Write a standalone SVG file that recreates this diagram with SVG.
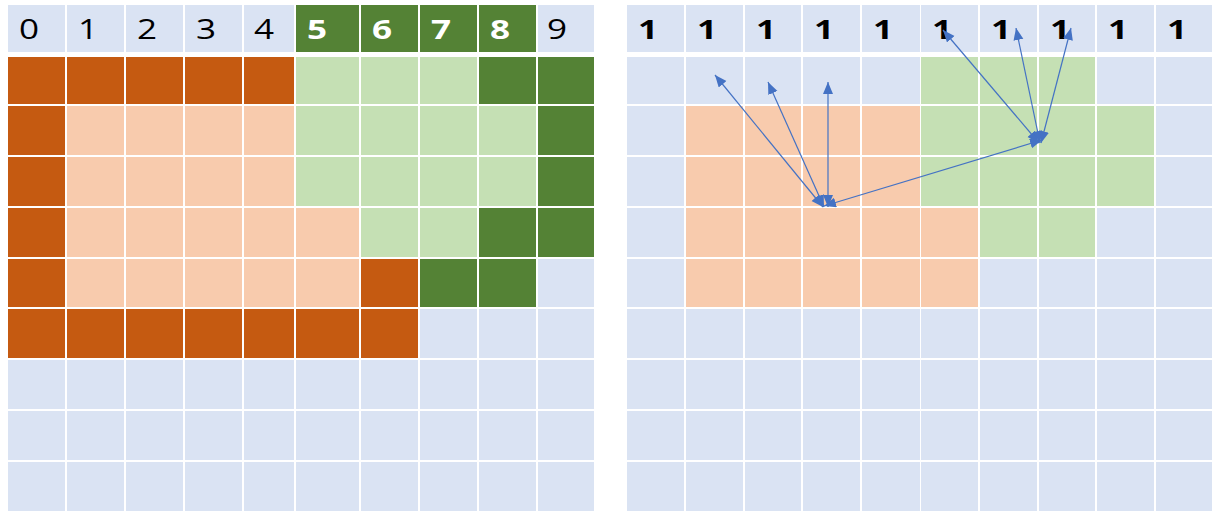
<svg xmlns="http://www.w3.org/2000/svg" width="1212" height="511" viewBox="0 0 1212 511">
<style>
.b{fill:#DAE3F3}.o{fill:#C55A11}.lo{fill:#F8CBAD}.g{fill:#548235}.lg{fill:#C5E0B4}
text{font-family:"Open Sans","Noto Sans","DejaVu Sans",sans-serif;font-size:27px;fill:#000}
.w{fill:#fff;font-weight:bold}.k{font-weight:bold}
.ar{stroke:#4472C4;stroke-width:1.2;fill:none;marker-start:url(#ah);marker-end:url(#ah)}
</style>
<defs>
<marker id="ah" markerUnits="userSpaceOnUse" markerWidth="14" markerHeight="12" refX="12" refY="5" orient="auto-start-reverse" viewBox="0 0 14 12">
<path d="M0,0 L12,5 L0,10 z" fill="#4472C4"/>
</marker>
</defs>
<rect width="1212" height="511" fill="#fff"/>
<g id="left-grid">
<g id="left-header">
<g id="lh0"><rect class="b" x="8" y="5" width="57" height="47"/><text transform="translate(19,39) scale(1.3,1)">0</text></g>
<g id="lh1"><rect class="b" x="67" y="5" width="57" height="47"/><text transform="translate(78,39) scale(1.3,1)">1</text></g>
<g id="lh2"><rect class="b" x="126" y="5" width="57" height="47"/><text transform="translate(137,39) scale(1.3,1)">2</text></g>
<g id="lh3"><rect class="b" x="185" y="5" width="57" height="47"/><text transform="translate(196,39) scale(1.3,1)">3</text></g>
<g id="lh4"><rect class="b" x="244" y="5" width="50" height="47"/><text transform="translate(254,39) scale(1.3,1)">4</text></g>
<g id="lh5"><rect class="g" x="296" y="5" width="63" height="47"/><text class="w" transform="translate(307,39) scale(1.3,1)">5</text></g>
<g id="lh6"><rect class="g" x="361" y="5" width="57" height="47"/><text class="w" transform="translate(372,39) scale(1.3,1)">6</text></g>
<g id="lh7"><rect class="g" x="420" y="5" width="57" height="47"/><text class="w" transform="translate(431,39) scale(1.3,1)">7</text></g>
<g id="lh8"><rect class="g" x="479" y="5" width="57" height="47"/><text class="w" transform="translate(490,39) scale(1.3,1)">8</text></g>
<g id="lh9"><rect class="b" x="538" y="5" width="56" height="47"/><text transform="translate(547,39) scale(1.3,1)">9</text></g>
</g>
<g id="left-r1" transform="translate(0,57)">
<rect class="o" x="8" width="57" height="47"/><rect class="o" x="67" width="57" height="47"/><rect class="o" x="126" width="57" height="47"/><rect class="o" x="185" width="57" height="47"/><rect class="o" x="244" width="50" height="47"/><rect class="lg" x="296" width="63" height="47"/><rect class="lg" x="361" width="57" height="47"/><rect class="lg" x="420" width="57" height="47"/><rect class="g" x="479" width="57" height="47"/><rect class="g" x="538" width="56" height="47"/>
</g>
<g id="left-r2" transform="translate(0,106)">
<rect class="o" x="8" width="57" height="49"/><rect class="lo" x="67" width="57" height="49"/><rect class="lo" x="126" width="57" height="49"/><rect class="lo" x="185" width="57" height="49"/><rect class="lo" x="244" width="50" height="49"/><rect class="lg" x="296" width="63" height="49"/><rect class="lg" x="361" width="57" height="49"/><rect class="lg" x="420" width="57" height="49"/><rect class="lg" x="479" width="57" height="49"/><rect class="g" x="538" width="56" height="49"/>
</g>
<g id="left-r3" transform="translate(0,157)">
<rect class="o" x="8" width="57" height="49"/><rect class="lo" x="67" width="57" height="49"/><rect class="lo" x="126" width="57" height="49"/><rect class="lo" x="185" width="57" height="49"/><rect class="lo" x="244" width="50" height="49"/><rect class="lg" x="296" width="63" height="49"/><rect class="lg" x="361" width="57" height="49"/><rect class="lg" x="420" width="57" height="49"/><rect class="lg" x="479" width="57" height="49"/><rect class="g" x="538" width="56" height="49"/>
</g>
<g id="left-r4" transform="translate(0,208)">
<rect class="o" x="8" width="57" height="49"/><rect class="lo" x="67" width="57" height="49"/><rect class="lo" x="126" width="57" height="49"/><rect class="lo" x="185" width="57" height="49"/><rect class="lo" x="244" width="50" height="49"/><rect class="lo" x="296" width="63" height="49"/><rect class="lg" x="361" width="57" height="49"/><rect class="lg" x="420" width="57" height="49"/><rect class="g" x="479" width="57" height="49"/><rect class="g" x="538" width="56" height="49"/>
</g>
<g id="left-r5" transform="translate(0,259)">
<rect class="o" x="8" width="57" height="48"/><rect class="lo" x="67" width="57" height="48"/><rect class="lo" x="126" width="57" height="48"/><rect class="lo" x="185" width="57" height="48"/><rect class="lo" x="244" width="50" height="48"/><rect class="lo" x="296" width="63" height="48"/><rect class="o" x="361" width="57" height="48"/><rect class="g" x="420" width="57" height="48"/><rect class="g" x="479" width="57" height="48"/><rect class="b" x="538" width="56" height="48"/>
</g>
<g id="left-r6" transform="translate(0,309)">
<rect class="o" x="8" width="57" height="49"/><rect class="o" x="67" width="57" height="49"/><rect class="o" x="126" width="57" height="49"/><rect class="o" x="185" width="57" height="49"/><rect class="o" x="244" width="50" height="49"/><rect class="o" x="296" width="63" height="49"/><rect class="o" x="361" width="57" height="49"/><rect class="b" x="420" width="57" height="49"/><rect class="b" x="479" width="57" height="49"/><rect class="b" x="538" width="56" height="49"/>
</g>
<g id="left-r7" transform="translate(0,360)">
<rect class="b" x="8" width="57" height="49"/><rect class="b" x="67" width="57" height="49"/><rect class="b" x="126" width="57" height="49"/><rect class="b" x="185" width="57" height="49"/><rect class="b" x="244" width="50" height="49"/><rect class="b" x="296" width="63" height="49"/><rect class="b" x="361" width="57" height="49"/><rect class="b" x="420" width="57" height="49"/><rect class="b" x="479" width="57" height="49"/><rect class="b" x="538" width="56" height="49"/>
</g>
<g id="left-r8" transform="translate(0,411)">
<rect class="b" x="8" width="57" height="49"/><rect class="b" x="67" width="57" height="49"/><rect class="b" x="126" width="57" height="49"/><rect class="b" x="185" width="57" height="49"/><rect class="b" x="244" width="50" height="49"/><rect class="b" x="296" width="63" height="49"/><rect class="b" x="361" width="57" height="49"/><rect class="b" x="420" width="57" height="49"/><rect class="b" x="479" width="57" height="49"/><rect class="b" x="538" width="56" height="49"/>
</g>
<g id="left-r9" transform="translate(0,462)">
<rect class="b" x="8" width="57" height="49"/><rect class="b" x="67" width="57" height="49"/><rect class="b" x="126" width="57" height="49"/><rect class="b" x="185" width="57" height="49"/><rect class="b" x="244" width="50" height="49"/><rect class="b" x="296" width="63" height="49"/><rect class="b" x="361" width="57" height="49"/><rect class="b" x="420" width="57" height="49"/><rect class="b" x="479" width="57" height="49"/><rect class="b" x="538" width="56" height="49"/>
</g>
</g>
<g id="right-grid">
<g id="right-header">
<g id="rh0"><rect class="b" x="627" y="5" width="57" height="47"/><text class="k" transform="translate(638,39) scale(1.3,1)">1</text></g>
<g id="rh1"><rect class="b" x="686" y="5" width="57" height="47"/><text class="k" transform="translate(697,39) scale(1.3,1)">1</text></g>
<g id="rh2"><rect class="b" x="745" y="5" width="56" height="47"/><text class="k" transform="translate(756,39) scale(1.3,1)">1</text></g>
<g id="rh3"><rect class="b" x="803" y="5" width="57" height="47"/><text class="k" transform="translate(814,39) scale(1.3,1)">1</text></g>
<g id="rh4"><rect class="b" x="862" y="5" width="58" height="47"/><text class="k" transform="translate(873,39) scale(1.3,1)">1</text></g>
<g id="rh5"><rect class="b" x="921" y="5" width="57" height="47"/><text class="k" transform="translate(932,39) scale(1.3,1)">1</text></g>
<g id="rh6"><rect class="b" x="980" y="5" width="57" height="47"/><text class="k" transform="translate(991,39) scale(1.3,1)">1</text></g>
<g id="rh7"><rect class="b" x="1039" y="5" width="56" height="47"/><text class="k" transform="translate(1050,39) scale(1.3,1)">1</text></g>
<g id="rh8"><rect class="b" x="1097" y="5" width="57" height="47"/><text class="k" transform="translate(1108,39) scale(1.3,1)">1</text></g>
<g id="rh9"><rect class="b" x="1156" y="5" width="56" height="47"/><text class="k" transform="translate(1167,39) scale(1.3,1)">1</text></g>
</g>
<g id="right-r1" transform="translate(0,57)">
<rect class="b" x="627" width="57" height="47"/><rect class="b" x="686" width="57" height="47"/><rect class="b" x="745" width="56" height="47"/><rect class="b" x="803" width="57" height="47"/><rect class="b" x="862" width="58" height="47"/><rect class="lg" x="921" width="57" height="47"/><rect class="lg" x="980" width="57" height="47"/><rect class="lg" x="1039" width="56" height="47"/><rect class="b" x="1097" width="57" height="47"/><rect class="b" x="1156" width="56" height="47"/>
</g>
<g id="right-r2" transform="translate(0,106)">
<rect class="b" x="627" width="57" height="49"/><rect class="lo" x="686" width="57" height="49"/><rect class="lo" x="745" width="56" height="49"/><rect class="lo" x="803" width="57" height="49"/><rect class="lo" x="862" width="58" height="49"/><rect class="lg" x="921" width="57" height="49"/><rect class="lg" x="980" width="57" height="49"/><rect class="lg" x="1039" width="56" height="49"/><rect class="lg" x="1097" width="57" height="49"/><rect class="b" x="1156" width="56" height="49"/>
</g>
<g id="right-r3" transform="translate(0,157)">
<rect class="b" x="627" width="57" height="49"/><rect class="lo" x="686" width="57" height="49"/><rect class="lo" x="745" width="56" height="49"/><rect class="lo" x="803" width="57" height="49"/><rect class="lo" x="862" width="58" height="49"/><rect class="lg" x="921" width="57" height="49"/><rect class="lg" x="980" width="57" height="49"/><rect class="lg" x="1039" width="56" height="49"/><rect class="lg" x="1097" width="57" height="49"/><rect class="b" x="1156" width="56" height="49"/>
</g>
<g id="right-r4" transform="translate(0,208)">
<rect class="b" x="627" width="57" height="49"/><rect class="lo" x="686" width="57" height="49"/><rect class="lo" x="745" width="56" height="49"/><rect class="lo" x="803" width="57" height="49"/><rect class="lo" x="862" width="58" height="49"/><rect class="lo" x="921" width="57" height="49"/><rect class="lg" x="980" width="57" height="49"/><rect class="lg" x="1039" width="56" height="49"/><rect class="b" x="1097" width="57" height="49"/><rect class="b" x="1156" width="56" height="49"/>
</g>
<g id="right-r5" transform="translate(0,259)">
<rect class="b" x="627" width="57" height="48"/><rect class="lo" x="686" width="57" height="48"/><rect class="lo" x="745" width="56" height="48"/><rect class="lo" x="803" width="57" height="48"/><rect class="lo" x="862" width="58" height="48"/><rect class="lo" x="921" width="57" height="48"/><rect class="b" x="980" width="57" height="48"/><rect class="b" x="1039" width="56" height="48"/><rect class="b" x="1097" width="57" height="48"/><rect class="b" x="1156" width="56" height="48"/>
</g>
<g id="right-r6" transform="translate(0,309)">
<rect class="b" x="627" width="57" height="49"/><rect class="b" x="686" width="57" height="49"/><rect class="b" x="745" width="56" height="49"/><rect class="b" x="803" width="57" height="49"/><rect class="b" x="862" width="58" height="49"/><rect class="b" x="921" width="57" height="49"/><rect class="b" x="980" width="57" height="49"/><rect class="b" x="1039" width="56" height="49"/><rect class="b" x="1097" width="57" height="49"/><rect class="b" x="1156" width="56" height="49"/>
</g>
<g id="right-r7" transform="translate(0,360)">
<rect class="b" x="627" width="57" height="49"/><rect class="b" x="686" width="57" height="49"/><rect class="b" x="745" width="56" height="49"/><rect class="b" x="803" width="57" height="49"/><rect class="b" x="862" width="58" height="49"/><rect class="b" x="921" width="57" height="49"/><rect class="b" x="980" width="57" height="49"/><rect class="b" x="1039" width="56" height="49"/><rect class="b" x="1097" width="57" height="49"/><rect class="b" x="1156" width="56" height="49"/>
</g>
<g id="right-r8" transform="translate(0,411)">
<rect class="b" x="627" width="57" height="49"/><rect class="b" x="686" width="57" height="49"/><rect class="b" x="745" width="56" height="49"/><rect class="b" x="803" width="57" height="49"/><rect class="b" x="862" width="58" height="49"/><rect class="b" x="921" width="57" height="49"/><rect class="b" x="980" width="57" height="49"/><rect class="b" x="1039" width="56" height="49"/><rect class="b" x="1097" width="57" height="49"/><rect class="b" x="1156" width="56" height="49"/>
</g>
<g id="right-r9" transform="translate(0,462)">
<rect class="b" x="627" width="57" height="49"/><rect class="b" x="686" width="57" height="49"/><rect class="b" x="745" width="56" height="49"/><rect class="b" x="803" width="57" height="49"/><rect class="b" x="862" width="58" height="49"/><rect class="b" x="921" width="57" height="49"/><rect class="b" x="980" width="57" height="49"/><rect class="b" x="1039" width="56" height="49"/><rect class="b" x="1097" width="57" height="49"/><rect class="b" x="1156" width="56" height="49"/>
</g>
</g>
<g id="connectors">
<line class="ar" x1="823" y1="207" x2="715" y2="75"/>
<line class="ar" x1="824" y1="207" x2="768" y2="82"/>
<line class="ar" x1="828" y1="207" x2="828" y2="82"/>
<line class="ar" x1="824" y1="206" x2="1042" y2="140"/>
<line class="ar" x1="1039" y1="143" x2="943" y2="30"/>
<line class="ar" x1="1040" y1="143" x2="1016" y2="28"/>
<line class="ar" x1="1041" y1="143" x2="1071" y2="28"/>
</g>
</svg>
